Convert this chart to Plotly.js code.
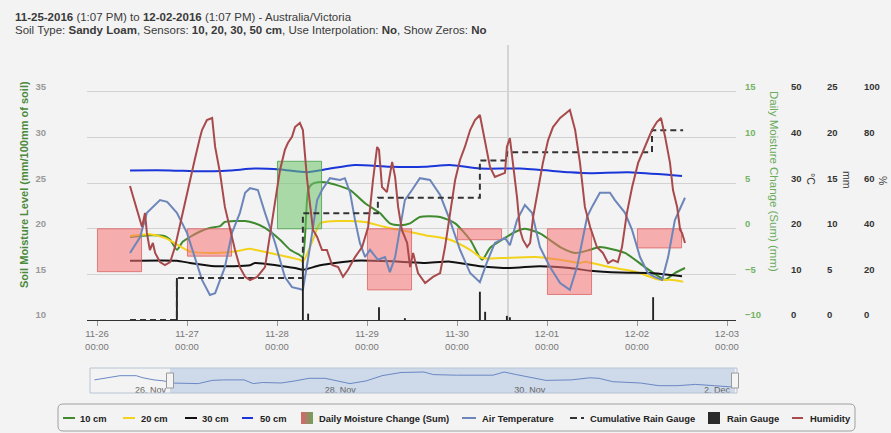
<!DOCTYPE html>
<html><head><meta charset="utf-8">
<script src="https://cdn.plot.ly/plotly-3.0.1.min.js"></script>
<style>html,body{margin:0;padding:0;background:#f3f3f3;}#chart{width:891px;height:433px;}</style>
</head><body><div id="chart"></div>
<script>
// ---------- DATA (hours counted from 2016-11-26 00:00) ----------
const soil10Hours = [8.8,14.1,18.1,19.5,21.3,22.9,24.8,27.5,30.1,32.8,34.1,39.5,42.1,44.8,48.8,51.5,54.1,54.9,56.3,57.3,58.9,62.1,67.5,71.5,75.5,78.1,80.8,83.5,86.1,91.5,95.5,99.5,102.7,104.8,108.8,111.5,114.1,118.1,123.5,127.5,131.5,134.1,140.8,146.1,150.1,151.5,154.1,156.8];
const soil10 = [19.1,19.3,19.2,18.8,17.7,18.6,19.1,19.7,20.1,20.3,20.75,20.85,20.6,20.1,18.8,17.7,17.1,16.9,24.25,24.9,25.1,25.0,24.25,22.8,21.7,20.6,20.4,20.6,21.3,21.3,20.6,18.8,16.6,17.9,19.0,19.65,20.0,19.5,18.0,17.35,17.7,18.0,17.35,15.8,14.7,14.4,15.15,15.7];

const soil20Hours = [8.8,14.1,18.1,20.8,24.8,31.5,36.8,40.8,42.1,48.8,54.1,54.9,57.6,59.5,64.8,71.5,76.8,83.5,87.5,94.1,99.5,102.7,107.5,116.8,123.5,128.8,130.1,136.8,143.5,150.1,152.8,156.3];
const soil20 = [19.2,19.4,19.0,18.4,17.5,17.35,17.5,17.8,17.7,17.1,16.6,16.4,18.8,20.6,20.85,20.75,20.2,19.65,19.3,18.8,17.7,16.8,16.8,16.9,16.6,16.25,16.4,15.8,15.3,14.4,14.4,14.2];

const soil30Hours = [8.8,21.3,24.8,31.5,40.8,42.1,52.8,54.9,59.5,68.8,80.8,87.5,94.1,102.1,110.1,118.1,126.1,131.5,139.5,147.5,156.0];
const soil30 = [16.5,16.5,16.25,15.9,16.0,16.25,15.7,15.5,16.0,16.5,16.4,16.25,16.4,15.9,15.7,15.9,15.7,15.4,15.2,15.15,14.8];

const soil50Hours = [8.8,19.5,27.5,35.5,42.1,48.8,56.0,62.1,68.8,78.1,87.5,94.1,102.1,112.8,126.1,131.5,141.6,152.8,156.0];
const soil50 = [26.4,26.4,26.3,26.4,26.6,26.5,26.2,26.6,27.0,26.8,26.8,27.0,26.6,26.6,26.2,26.1,26.2,25.9,25.8];

const tempHours = [8.8,11.5,13.3,14.9,16.8,18.7,21.3,24.0,26.1,28.0,30.1,31.5,34.1,36.0,38.1,39.5,40.8,42.9,44.8,47.5,50.1,52.0,54.1,54.9,56.8,58.7,60.0,62.1,64.8,66.1,67.5,68.8,70.1,71.5,72.8,74.9,76.8,78.1,79.5,80.8,82.1,84.0,86.1,88.8,91.5,94.1,96.8,99.5,102.1,104.0,106.1,108.8,110.1,112.0,114.1,116.0,118.1,120.8,123.5,126.1,128.0,130.7,132.0,134.1,136.8,138.1,139.5,140.8,142.7,144.8,146.9,148.8,150.7,152.3,154.1,156.8];
const airTemp = [14.7,18.2,23.5,24.8,26.3,25.9,23.5,19.1,13.8,8.8,5.5,5.9,11.6,19.1,23.5,27.9,28.9,28.5,23.5,16.9,9.4,7.2,6.8,6.6,16.0,26.3,28.5,31.1,30.7,31.1,27.9,21.9,16.9,13.8,15.4,13.2,13.8,10.5,13.8,19.7,26.3,28.5,31.1,30.7,27.4,21.9,15.4,10.3,8.3,12.7,16.9,18.0,16.4,21.9,25.2,23.5,16.0,11.6,8.1,6.6,11.6,22.6,24.8,27.9,27.9,26.3,24.8,23.5,19.7,13.8,10.3,9.4,8.8,13.8,21.9,26.8];

const humHours = [8.8,10.1,11.5,12.0,12.8,13.3,14.1,14.9,15.5,16.8,18.1,19.5,20.8,22.1,23.5,24.8,26.1,27.5,28.0,29.3,30.7,31.5,32.8,34.1,35.5,36.8,38.1,39.5,40.8,42.7,44.8,46.1,47.5,48.8,50.1,50.9,52.0,52.8,54.1,54.9,56.0,56.8,57.6,58.7,60.0,61.3,62.7,64.3,65.6,66.9,68.8,70.7,72.3,73.6,74.7,75.2,76.0,77.3,78.1,78.7,79.5,80.3,81.3,82.7,83.5,84.3,85.6,86.9,87.5,89.6,91.5,92.8,94.1,95.5,96.8,98.1,99.5,100.8,102.1,103.5,104.8,106.1,107.5,108.8,109.3,110.1,110.9,112.0,112.8,113.6,114.7,115.5,116.3,117.6,118.9,120.3,121.6,123.5,125.3,126.1,127.5,128.8,130.1,131.5,133.3,134.9,136.3,137.6,138.9,140.0,141.3,142.7,144.3,146.1,148.0,149.3,150.4,151.5,152.8,153.6,154.7,155.5,156.0,156.8];
const humidity = [58.8,51.3,43.9,40.8,46.9,38.2,30.7,33.8,29.4,25.4,24.1,25.4,32.0,41.7,51.3,61.0,70.6,80.3,83.3,87.7,88.6,75.9,64.5,49.6,39.5,30.7,23.2,18.9,17.5,18.9,23.2,37.3,52.6,65.8,74.6,77.6,80.3,84.6,86.4,83.3,62.0,50.0,39.5,36.4,30.7,30.7,24.1,23.2,18.9,21.9,27.6,32.0,40.8,61.4,75.9,74.6,58.3,56.1,62.7,69.3,62.7,49.6,39.5,33.8,23.2,29.4,20.6,17.5,16.2,18.9,20.6,32.0,46.9,61.4,70.2,75.9,83.3,87.7,89.9,78.9,67.1,62.7,63.6,64.5,75.9,79.8,68.9,53.9,39.5,35.1,32.0,33.8,45.2,57.0,68.9,78.9,84.6,88.6,90.8,92.1,83.3,68.9,49.6,40.8,32.0,29.4,25.0,26.3,25.4,32.0,46.9,58.3,68.9,75.9,83.3,86.8,88.6,80.3,68.9,57.0,49.6,39.5,38.2,33.8];

const rainHours = [21.3,54.9,56.3,75.2,82.1,102.1,103.5,109.3,110.1,148.3];
const rainGauge = [4.6,6.4,0.7,1.4,0.2,3.1,0.9,0.45,0.3,2.5];

const cumRainHours = [8.8,21.3,54.9,74.9,102.1,109.3,148.0,156.3];
const cumRain = [0,4.6,11.7,13.4,17.5,18.4,20.8,20.8];

const dailyDates = ['2016-11-26 06:00','2016-11-27 06:00','2016-11-28 06:00','2016-11-29 06:00','2016-11-30 06:00','2016-12-01 06:00','2016-12-02 06:00'];
const dailyChange = [-4.7,-3.0,7.4,-6.7,-1.2,-7.2,-2.1];

const dayTickLabels = ['11-26','11-27','11-28','11-29','11-30','12-01','12-02','12-03'];

const navHours = [-10.3,-7.3,-3.8,0.3,2.0,4.8,7.3,9.0,16.0,19.5,22.4,27.6,29.9,32.3,37.0,40.5,44.0,48.1,50.9,54.4,58.5,62.5,67.3,73.1,75.5,81.3,90.6,93.4,96.5,99.9,104.0,110.4,115.1,117.4,120.9,127.9,132.6,137.2,141.9,146.6,151.2];
const navValues = [13.1,15.2,17.3,17.3,15.2,13.1,12.1,10.0,9.4,12.6,13.1,13.1,9.4,10.5,10.0,12.1,14.7,14.7,12.1,9.4,12.1,17.3,20.5,21.0,18.4,17.8,17.8,21.0,18.4,15.7,12.6,13.1,15.2,14.7,11.3,10.0,7.3,7.3,8.6,7.3,6.0];
const navTickDates = ['2016-11-26','2016-11-28','2016-11-30','2016-12-02'];
const navTickLabels = ['26. Nov','28. Nov','30. Nov','2. Dec'];

const legendNames = ['10 cm','20 cm','30 cm','50 cm','Daily Moisture Change (Sum)','Air Temperature','Cumulative Rain Gauge','Rain Gauge','Humidity'];

// ---------- helpers ----------
const BASE = Date.UTC(2016,10,26,0,0,0);
function toDate(h){ return new Date(BASE + h*3600000).toISOString().slice(0,19).replace('T',' '); }
const dates = a => a.map(toDate);

const W=891,H=433,L=87,R=4,T=45,B=40, PW=W-L-R, PH=H-T-B;
const px = x => (x-L)/PW;
const py = y => (H-B-y)/PH;
const FONT = 'Liberation Sans, Arial, sans-serif';

const C10='#3f8a2f', C20='#f2d21b', C30='#111111', C50='#1a35d8', CT='#6d86ba', CH='#a84a4c';

const traces = [
  {type:'bar', x:dailyDates, y:dailyChange, yaxis:'y2', width:43200000*0.98,
   marker:{color:dailyChange.map(v=>v<0?'rgba(245,115,115,0.55)':'rgba(110,195,105,0.55)'),
           line:{color:dailyChange.map(v=>v<0?'rgba(215,95,95,0.75)':'rgba(80,165,80,0.85)'),width:1}}},
  {type:'bar', x:dates(rainHours), y:rainGauge, yaxis:'y4', width:1800000,
   marker:{color:'#222',line:{width:0}}},
  {type:'scatter', mode:'lines', x:dates(cumRainHours), y:cumRain, yaxis:'y4',
   line:{color:'#333',width:2,dash:'6px,4px',shape:'hv'}},
  {type:'scatter', mode:'lines', x:dates(soil10Hours), y:soil10, line:{color:C10,width:2,shape:'spline',smoothing:0.6}},
  {type:'scatter', mode:'lines', x:dates(soil20Hours), y:soil20, line:{color:C20,width:2,shape:'spline',smoothing:0.6}},
  {type:'scatter', mode:'lines', x:dates(soil30Hours), y:soil30, line:{color:C30,width:2,shape:'spline',smoothing:0.6}},
  {type:'scatter', mode:'lines', x:dates(soil50Hours), y:soil50, line:{color:C50,width:2,shape:'spline',smoothing:0.6}},
  {type:'scatter', mode:'lines', x:dates(tempHours), y:airTemp, yaxis:'y3', line:{color:CT,width:2}},
  {type:'scatter', mode:'lines', x:dates(humHours), y:humidity, yaxis:'y5', line:{color:CH,width:2}},
  {type:'scatter', mode:'lines', x:dates(navHours), y:navValues, xaxis:'x2', yaxis:'y6', line:{color:'#6a88c4',width:1}}
];

const mainDom = [py(320),1];
const rightAxis = (pos, range, ticks, color) => ({
  overlaying:'y', side:'right', anchor:'free', position:pos, range:range, tickvals:ticks,
  showgrid:false, zeroline:false, showline:false, ticks:'', ticklabelshift:-5,
  tickfont:{family:FONT,size:9.5,color:color,weight:'bold'}
});

const shapes = [
  {type:'line',xref:'paper',yref:'paper',x0:px(508),x1:px(508),y0:mainDom[0],y1:1,line:{color:'#b5b5b5',width:1},layer:'below'},
  {type:'rect',xref:'paper',yref:'paper',x0:px(170),x1:px(735),y0:py(393),y1:py(368),fillcolor:'rgba(110,150,210,0.28)',line:{width:0},layer:'below'},
  {type:'rect',xref:'paper',yref:'paper',x0:px(90),x1:px(737),y0:py(393),y1:py(368),fillcolor:'rgba(0,0,0,0)',line:{color:'#b8c4d4',width:1}},
  {type:'rect',xref:'paper',yref:'paper',x0:px(166.5),x1:px(173.5),y0:py(388),y1:py(373),fillcolor:'#f4f4f4',line:{color:'#9a9a9a',width:1}},
  {type:'rect',xref:'paper',yref:'paper',x0:px(731.5),x1:px(738.5),y0:py(388),y1:py(373),fillcolor:'#f4f4f4',line:{color:'#9a9a9a',width:1}},
];
(function(){
  const x0=px(58),x1=px(855),y0=py(431),y1=py(404),rx=5/PW,ry=5/PH;
  shapes.push({type:'path',xref:'paper',yref:'paper',line:{color:'#a0a0a0',width:1},fillcolor:'rgba(0,0,0,0)',
    path:`M ${x0+rx} ${y1} L ${x1-rx} ${y1} Q ${x1} ${y1} ${x1} ${y1-ry} L ${x1} ${y0+ry} Q ${x1} ${y0} ${x1-rx} ${y0} L ${x0+rx} ${y0} Q ${x0} ${y0} ${x0} ${y0+ry} L ${x0} ${y1-ry} Q ${x0} ${y1} ${x0+rx} ${y1} Z`});
})();
const LY = py(418);
const legLine = (a,b,color) => shapes.push({type:'line',xref:'paper',yref:'paper',x0:px(a),x1:px(b),y0:LY,y1:LY,line:{color:color,width:2}});
legLine(63,75,C10); legLine(123,135,C20); legLine(185,197,C30); legLine(242,253,C50);
legLine(462,476,CT); legLine(570,577,'#333'); legLine(581,584,'#333'); legLine(792,803,CH);
const gradCols=['#cf6a66','#c0726a','#b07c6a','#9c8866','#889260','#76a05a'];
gradCols.forEach((c,i)=>shapes.push({type:'rect',xref:'paper',yref:'paper',x0:px(301+i*2),x1:px(303+i*2),y0:py(424),y1:py(412),fillcolor:c,line:{width:0}}));
shapes.push({type:'rect',xref:'paper',yref:'paper',x0:px(708),x1:px(720),y0:py(424),y1:py(412),fillcolor:'#2a2a2a',line:{width:0}});

const legX = [78,139,200,258,317,480,588,725,808];
const annotations = legendNames.map((n,i)=>({xref:'paper',yref:'paper',x:px(legX[i]),y:LY,xanchor:'left',yanchor:'middle',showarrow:false,
  text:'<b>'+n+'</b>',font:{family:FONT,size:9.4,color:'#222'}}));

annotations.push(
  {xref:'paper',yref:'paper',x:px(14),y:py(16.5),xanchor:'left',yanchor:'middle',showarrow:false,borderpad:0,
   text:'<b>11-25-2016</b> (1:07 PM) to <b>12-02-2016</b> (1:07 PM) - Australia/Victoria',font:{family:FONT,size:11.5,color:'#3a3a3a'}},
  {xref:'paper',yref:'paper',x:px(14),y:py(30.5),xanchor:'left',yanchor:'middle',showarrow:false,borderpad:0,
   text:'Soil Type: <b>Sandy Loam</b>, Sensors: <b>10, 20, 30, 50 cm</b>, Use Interpolation: <b>No</b>, Show Zeros: <b>No</b>',font:{family:FONT,size:11.5,color:'#3a3a3a'}},
  {xref:'paper',yref:'paper',x:px(24),y:py(185),textangle:-90,showarrow:false,xanchor:'center',yanchor:'middle',
   text:'<b>Soil Moisture Level (mm/100mm of soil)</b>',font:{family:FONT,size:11,color:'#4a8a3c'}},
  {xref:'paper',yref:'paper',x:px(774),y:py(181),textangle:90,showarrow:false,xanchor:'center',yanchor:'middle',
   text:'Daily Moisture Change (Sum) (mm)',font:{family:FONT,size:11.5,color:'#6aab5c'}},
  {xref:'paper',yref:'paper',x:px(811),y:py(179),textangle:90,showarrow:false,xanchor:'center',yanchor:'middle',
   text:'°C',font:{family:FONT,size:10.5,color:'#333'}},
  {xref:'paper',yref:'paper',x:px(847),y:py(180),textangle:90,showarrow:false,xanchor:'center',yanchor:'middle',
   text:'mm',font:{family:FONT,size:10.5,color:'#333'}},
  {xref:'paper',yref:'paper',x:px(883),y:py(180),textangle:90,showarrow:false,xanchor:'center',yanchor:'middle',
   text:'%',font:{family:FONT,size:10.5,color:'#333'}}
);

const layout = {
  width:W, height:H, margin:{l:L,r:R,t:T,b:B}, paper_bgcolor:'#f3f3f3', plot_bgcolor:'#f3f3f3',
  showlegend:false, barmode:'overlay', hovermode:false, font:{family:FONT},
  xaxis:{domain:[0,px(736)], anchor:'y', type:'date', range:[toDate(-2.67),toDate(170.4)],
    tickvals:dayTickLabels.map((d,i)=>toDate(24*i)), ticktext:dayTickLabels.map(d=>d+'<br>00:00'),
    ticks:'outside', ticklen:5, tickcolor:'#999', showline:true, linecolor:'#333', linewidth:1, showgrid:false, zeroline:false,
    tickfont:{family:FONT,size:9.5,color:'#777'}},
  yaxis:{domain:mainDom, range:[10,40.15], tickvals:[10,15,20,25,30,35], gridcolor:'#d2d2d2', gridwidth:1, zeroline:false,
    showline:false, ticks:'', ticklabelstandoff:40, ticklabelshift:-5, tickfont:{family:FONT,size:9.5,color:'#999',weight:'bold'}},
  yaxis2: rightAxis(px(744), [-10,20.15], [-10,-5,0,5,10,15], '#74b464'),
  yaxis3: rightAxis(px(790), [0,60.3], [0,10,20,30,40,50], '#333'),
  yaxis4: rightAxis(px(826), [0,30.15], [0,5,10,15,20,25], '#333'),
  yaxis5: rightAxis(px(863), [0,120.6], [0,20,40,60,80,100], '#333'),
  xaxis2:{domain:[px(90),px(737)], anchor:'y6', type:'date', range:['2016-11-25 12:36','2016-12-02 08:21'],
    tickvals:navTickDates, ticktext:navTickLabels, ticks:'', ticklabelposition:'inside right', ticklabelstandoff:-8,
    showgrid:false, showline:false, zeroline:false, tickfont:{family:FONT,size:9,color:'#666'}},
  yaxis6:{domain:[0,py(368)], anchor:'x2', range:[0,25], visible:false, fixedrange:true},
  shapes:shapes, annotations:annotations
};

Plotly.newPlot('chart', traces, layout, {displayModeBar:false, staticPlot:true});
</script></body></html>
